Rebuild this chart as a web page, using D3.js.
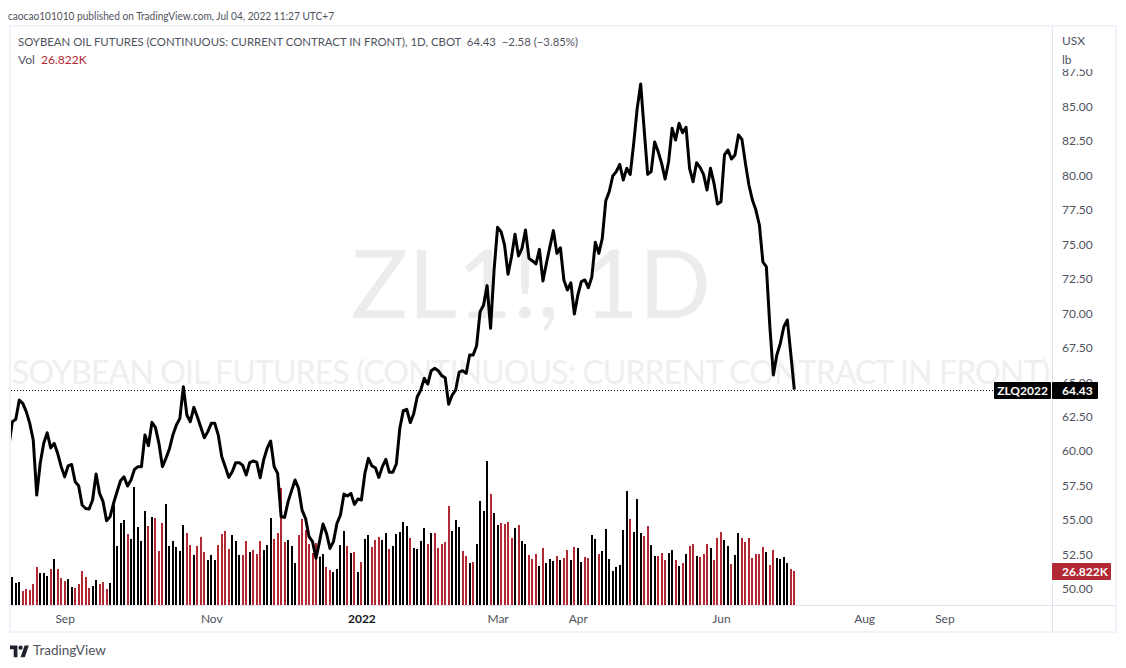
<!DOCTYPE html>
<html>
<head>
<meta charset="utf-8">
<script src="https://cdn.jsdelivr.net/npm/d3@7"></script>
<style>
  body { margin: 0; background: #fff; }
  text { font-family: Lato, sans-serif; }
</style>
</head>
<body>
<script>
// first value is the close before the first visible bar, cut off by the chart edge
const closes = [60.3,
  62.1,62.27,63.67,63.43,62.83,61.98,60.77,56.78,59.08,60.53,
  61.3,60.2,60.53,59.8,58.84,58.1,58.9,59.0,57.75,57.46,
  56.06,55.8,55.77,56.42,58.3,56.9,56.3,54.92,55.2,56.18,
  57.02,57.82,58.1,57.43,57.87,58.64,58.84,58.84,61.14,60.36,
  62.05,61.69,60.53,58.84,59.44,60.12,61.14,61.86,62.34,64.64,
  62.59,62.1,63.14,62.46,61.7,60.93,61.38,61.98,61.98,61.13,
  59.56,58.84,58.06,58.47,59.13,59.13,58.93,58.23,59.13,59.25,
  59.17,58.04,59.32,60.17,60.7,58.84,58.35,55.21,55.16,56.3,
  57.1,57.87,57.26,55.69,55.09,53.76,53.4,52.19,53.4,54.68,
  54.0,52.91,53.4,54.73,55.33,56.85,56.71,56.9,56.1,56.49,
  56.42,58.35,59.44,58.89,58.76,58.06,58.84,59.37,58.43,58.43,
  59.03,61.62,62.9,63.0,62.03,62.7,63.91,64.4,65.24,64.83,
  65.8,65.97,65.8,65.44,65.29,63.36,64.03,64.4,65.7,65.8,
  65.6,66.94,66.94,67.61,70.08,70.56,71.97,68.87,73.1,76.2,
  75.88,74.92,72.79,74.07,75.69,74.12,74.67,76.0,73.95,73.76,
  73.54,74.6,72.3,73.59,74.8,75.96,74.31,74.72,72.38,71.65,
  72.18,69.91,71.29,72.26,72.38,71.82,72.6,75.11,74.31,75.4,
  78.13,78.8,79.92,80.24,80.77,79.63,80.48,80.04,82.29,84.83,
  86.6,83.26,80.04,80.24,82.39,81.69,80.84,79.7,80.96,83.38,
  82.53,83.74,83.06,83.45,80.48,79.51,80.89,80.55,80.04,78.9,
  80.48,79.39,77.89,78.06,81.45,81.81,81.15,81.45,82.9,82.58,
  80.84,79.27,78.18,77.45,76.37,73.7,73.34,68.99,65.49,66.94,
  67.78,68.99,69.48,67.01,64.43];

// volume in thousands
const volumes = [
  22.1,17.4,18.1,11.0,12.6,11.8,16.6,30.0,25.2,25.2,
  22.9,28.4,36.3,28.4,21.3,18.9,20.5,14.2,13.4,16.6,
  26.8,22.1,13.4,15.0,19.7,16.6,18.1,12.6,17.4,78.9,
  46.6,64.7,67.1,56.0,52.1,93.1,61.5,50.5,74.2,62.3,
  69.4,68.6,42.6,64.7,79.7,46.6,50.5,45.8,42.6,63.1,
  56.8,47.3,39.5,46.6,53.7,41.8,35.5,39.5,35.5,47.3,
  56.0,58.4,44.2,55.2,50.5,39.5,39.5,50.5,41.8,43.4,
  40.2,50.5,43.4,47.3,68.6,52.1,56.8,
  92.3,49.7,51.3,46.6,33.1,55.2,67.9,59.2,48.1,41.0,
  48.9,38.1,40.2,30.0,27.6,26.0,28.4,47.3,58.4,46.6,
  41.0,41.8,26.0,33.9,52.1,55.2,45.8,51.3,53.7,51.3,
  56.8,44.2,46.6,56.0,57.6,65.5,62.3,52.9,45.0,44.2,
  50.5,60.8,48.1,56.8,56.8,45.0,48.1,49.7,78.1,58.4,
  67.1,61.5,42.6,38.7,33.1,33.9,48.1,82.1,74.2,113.6,
  87.6,72.6,63.1,64.7,63.9,65.5,52.9,60.8,63.1,50.5,
  48.1,39.5,36.3,40.2,30.8,
  45.0,33.1,36.3,34.7,38.7,35.5,37.1,43.4,35.5,45.8,
  45.0,33.9,37.9,37.1,55.2,52.1,40.2,42.6,60.0,36.3,
  26.8,30.0,31.6,59.2,89.9,67.9,57.6,83.6,56.8,54.4,
  62.3,47.3,38.7,38.7,41.0,35.5,41.0,43.4,35.5,30.8,
  33.1,40.2,46.6,48.1,38.7,37.9,40.2,48.1,45.0,35.5,
  52.9,57.6,51.3,46.6,32.3,39.5,56.8,52.9,49.7,52.9,
  37.1,40.2,40.2,45.8,41.8,31.6,43.4,37.1,36.3,37.9,
  33.1,28.4,26.822];

// k = up day (black), r = down day (red)
const volumeSides = (
  "kkkrrrrrkk" + "krkrrrkkrr" + "rrrkkrrrkk" + "kkkrkkkkkr" + "krrrkkkkkk" +
  "rrkrrrkkkr" + "rrrkkkrrkr" + "rrkkkrr" +
  "rrkkkrrrrr" + "rkkrrkkkkr" + "krkrkkrrrk" + "krkkkkkrkk" + "kkrkrrrrrk" +
  "kkrrkrkkkk" + "rkkrrrrkrk" + "krrrk" +
  "rkkkrkrrkr" + "kkrrkkrkkk" + "kkkkkrkkkr" + "rkkrrrkkrk" + "rkrrkrrrkr" +
  "rrkkrkkrrr" + "rrrrkrrkkk" + "krr").split("");

const priceTicks = [50,52.5,55,57.5,60,62.5,65,67.5,70,72.5,75,77.5,80,82.5,85,87.5];
const timeTickBars = [15,57,100,139,162,203,244,267];
const timeTickLabels = ["Sep","Nov","2022","Mar","Apr","Jun","Aug","Sep"];

const width = 1126;
const height = 668;
const black = "#000000";
const red = "#b22833";
const axisText = "#50535e";

const x = d3.scaleLinear().domain([0, 224]).range([12.3, 794.3]);
const y = d3.scaleLinear().domain([50, 85]).range([588.5, 106]);
const yVol = d3.scaleLinear().domain([0, 113.6]).range([605, 461]);

const svg = d3.select("body").append("svg")
  .attr("width", width)
  .attr("height", height)
  .style("display", "block");

svg.append("clipPath").attr("id", "plot")
  .append("rect").attr("x", 11).attr("y", 27).attr("width", 1041).attr("height", 578);

// frame
svg.append("rect")
  .attr("x", 10).attr("y", 26).attr("width", 1106).attr("height", 606)
  .attr("fill", "none").attr("stroke", "#f0f3fa").attr("stroke-width", 2);
svg.append("line").attr("x1", 1052.5).attr("x2", 1052.5).attr("y1", 27).attr("y2", 631)
  .attr("stroke", "#e0e3eb");
svg.append("line").attr("x1", 11).attr("x2", 1115).attr("y1", 605.5).attr("y2", 605.5)
  .attr("stroke", "#e0e3eb");

// watermarks
svg.append("text")
  .attr("x", 531).attr("y", 318)
  .attr("text-anchor", "middle")
  .attr("font-size", 95)
  .attr("fill", "#ebecee")
  .text("ZL1!, 1D");
svg.append("text")
  .attr("x", 531).attr("y", 384)
  .attr("text-anchor", "middle")
  .attr("font-size", 32)
  .attr("fill", "#eeeff1")
  .attr("textLength", 1038)
  .text("SOYBEAN OIL FUTURES (CONTINUOUS: CURRENT CONTRACT IN FRONT)");

// volume
svg.append("g")
  .selectAll("rect")
  .data(volumes)
  .enter()
  .append("rect")
  .attr("x", (d, i) => Math.round(x(i)) - 1)
  .attr("y", (d) => yVol(d))
  .attr("width", 2)
  .attr("height", (d) => yVol(0) - yVol(d))
  .attr("fill", (d, i) => volumeSides[i] === "r" ? red : black);

// last price line
svg.append("line")
  .attr("x1", 11).attr("x2", 994)
  .attr("y1", Math.round(y(64.43)) + 0.5).attr("y2", Math.round(y(64.43)) + 0.5)
  .attr("stroke", black).attr("stroke-dasharray", "1 2")
  .attr("shape-rendering", "crispEdges");

// close line
const line = d3.line()
  .x((d, i) => x(i - 1))
  .y((d) => y(d));
svg.append("path")
  .datum(closes)
  .attr("d", line)
  .attr("clip-path", "url(#plot)")
  .attr("fill", "none")
  .attr("stroke", black)
  .attr("stroke-width", 3)
  .attr("stroke-linejoin", "round");

// price axis
const yAxis = d3.axisRight(y).tickValues(priceTicks).tickFormat(d3.format(".2f")).tickSize(0).tickPadding(9);
const yAxisG = svg.append("g").attr("transform", "translate(1053,0.5)").call(yAxis);
yAxisG.select(".domain").remove();
yAxisG.selectAll("text").attr("font-size", 12).attr("fill", axisText).style("font-family", "Lato, sans-serif");

svg.append("rect").attr("x", 1054).attr("y", 28).attr("width", 60).attr("height", 41).attr("fill", "#fff");
svg.append("text").attr("x", 1062).attr("y", 45).attr("font-size", 12).attr("fill", axisText).text("USX");
svg.append("text").attr("x", 1062).attr("y", 64).attr("font-size", 12).attr("fill", axisText).text("lb");

// time axis
const xAxis = d3.axisBottom(x).tickValues(timeTickBars)
  .tickFormat((d, i) => timeTickLabels[i]).tickSize(0).tickPadding(8);
const xAxisG = svg.append("g").attr("transform", "translate(0,606)").call(xAxis);
xAxisG.select(".domain").remove();
xAxisG.selectAll("text")
  .attr("font-size", 12)
  .attr("fill", (d, i) => timeTickLabels[i] === "2022" ? "#131722" : axisText)
  .attr("font-weight", (d, i) => timeTickLabels[i] === "2022" ? 700 : 400)
  .style("font-family", "Lato, sans-serif");

// tags on the axis
svg.append("rect").attr("x", 994).attr("y", 382).attr("width", 57).attr("height", 17).attr("rx", 1).attr("fill", black);
svg.append("text").attr("x", 1022.5).attr("y", 394.5).attr("text-anchor", "middle")
  .attr("font-size", 12).attr("font-weight", 700).attr("fill", "#fff").text("ZLQ2022");
svg.append("rect").attr("x", 1052).attr("y", 382).attr("width", 46).attr("height", 17).attr("rx", 1).attr("fill", black);
svg.append("text").attr("x", 1062).attr("y", 394.5)
  .attr("font-size", 12).attr("font-weight", 700).attr("fill", "#fff").text("64.43");
svg.append("rect").attr("x", 1052).attr("y", 563).attr("width", 59).attr("height", 17).attr("rx", 1).attr("fill", red);
svg.append("text").attr("x", 1062).attr("y", 575.5)
  .attr("font-size", 12).attr("font-weight", 700).attr("fill", "#fff").text("26.822K");

// header and legend
svg.append("text").attr("x", 8).attr("y", 19.5).attr("font-size", 12).attr("fill", axisText)
  .attr("textLength", 326).attr("lengthAdjust", "spacingAndGlyphs")
  .text("caocao101010 published on TradingView.com, Jul 04, 2022 11:27 UTC+7");
svg.append("text").attr("x", 18).attr("y", 45.5).attr("font-size", 12).attr("fill", axisText)
  .attr("textLength", 560).attr("lengthAdjust", "spacingAndGlyphs")
  .attr("xml:space", "preserve")
  .text("SOYBEAN OIL FUTURES (CONTINUOUS: CURRENT CONTRACT IN FRONT), 1D, CBOT  64.43  −2.58 (−3.85%)");
const vol = svg.append("text").attr("x", 18).attr("y", 63.5).attr("font-size", 12).attr("fill", axisText)
  .attr("xml:space", "preserve");
vol.append("tspan").text("Vol  ");
vol.append("tspan").attr("fill", red).text("26.822K");

// TradingView logo
const logo = svg.append("g").attr("transform", "translate(10,643.5) scale(0.53)").attr("fill", "#1e222d");
logo.append("path").attr("d", "M14 26H7V11H0V4h14v22zM28 26h-8l7.5-22h8L28 26z");
logo.append("circle").attr("cx", 20).attr("cy", 8).attr("r", 4);
svg.append("text").attr("x", 33).attr("y", 655).attr("font-size", 13.5).attr("fill", axisText).text("TradingView");
</script>
</body>
</html>
